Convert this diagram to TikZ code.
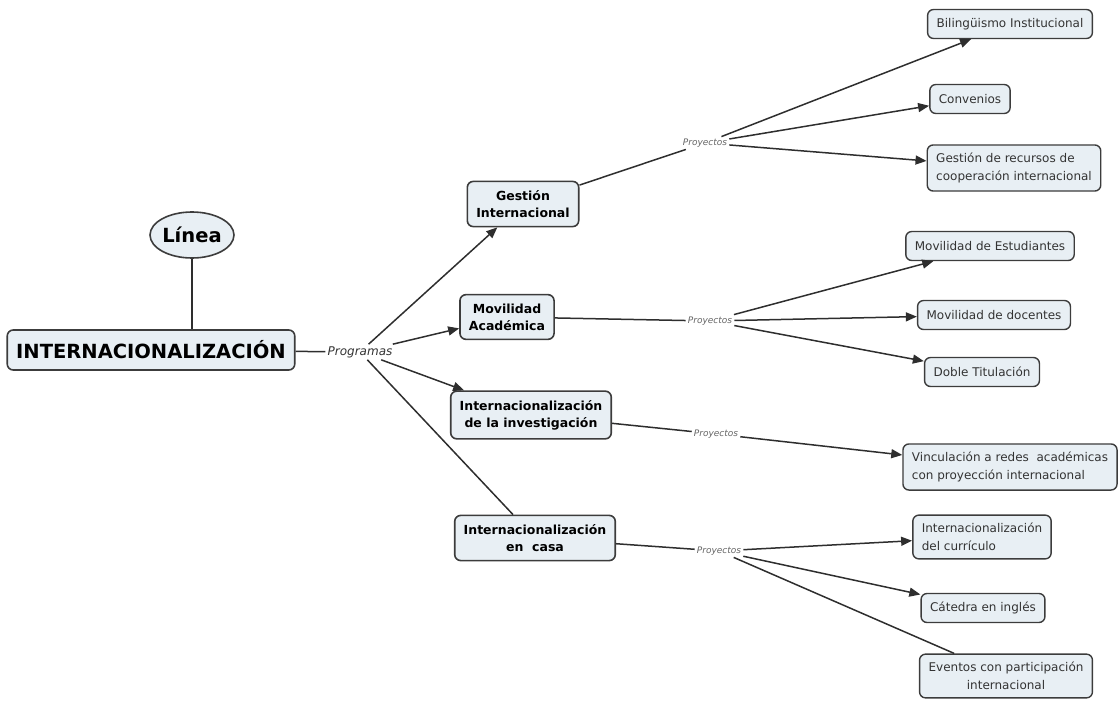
\documentclass[tikz,border=0pt]{standalone}
\usepackage{fontspec}
\setmainfont{DejaVu Sans}[ItalicFont={* Oblique}, BoldItalicFont={* Bold Oblique}]
\usepackage{tikz}
\usetikzlibrary{shapes.geometric, arrows.meta}
\definecolor{boxfill}{HTML}{E8EFF4}
\definecolor{boxdraw}{HTML}{3C3C3C}
\definecolor{linkcol}{HTML}{2E2E2E}
\tikzstyle{mainbox} = [rectangle, rounded corners=6pt, draw=boxdraw, fill=boxfill, line width=1.6pt, font=\fontsize{19.5}{22}\selectfont\bfseries, inner xsep=9pt, minimum height=40pt]
\tikzstyle{oval} = [ellipse, draw=boxdraw, fill=boxfill, line width=1.6pt, font=\fontsize{19.5}{22}\selectfont\bfseries, minimum width=79pt, minimum height=46pt, inner sep=0pt]
\tikzstyle{program} = [rectangle, rounded corners=6pt, draw=boxdraw, fill=boxfill, line width=1.6pt, font=\fontsize{12.5}{17}\selectfont\bfseries, align=center, inner xsep=9pt, inner ysep=9pt]
\tikzstyle{project} = [rectangle, rounded corners=6pt, draw=boxdraw, fill=boxfill, line width=1.4pt, font=\fontsize{12}{18}\selectfont, text=black!80, inner xsep=9pt, inner ysep=8pt, minimum height=29pt]
\tikzstyle{linklabel} = [font=\fontsize{12}{14}\selectfont\itshape, text=black!80, inner sep=2pt]
\tikzstyle{sublabel} = [font=\fontsize{9}{11}\selectfont\itshape, text=black!60, inner sep=2pt]
\tikzstyle{plainline} = [line width=1.5pt, draw=linkcol]
\tikzstyle{arrow} = [plainline, -{Triangle[length=11pt,width=9pt]}]

\begin{document}
\begin{tikzpicture}[x=1pt, y=-1pt]
\useasboundingbox (0,0) rectangle (1119,701);

\node (linea) [oval] at (192, 235) {Línea};
\node (inter) [mainbox] at (151, 350) {INTERNACIONALIZACIÓN};
\node (prog) [linklabel] at (360, 352) {Programas};

\node (gest) [program] at (523, 204) {Gestión\\Internacional};
\node (movi) [program] at (507, 317) {Movilidad\\Académica};
\node (inve) [program] at (531, 415) {Internacionalización\\de la investigación};
\node (casa) [program] at (535, 538) {Internacionalización\\en~ casa};

\node (p1) [sublabel] at (705, 143) {Proyectos};
\node (p2) [sublabel] at (710, 321) {Proyectos};
\node (p3) [sublabel] at (716, 434) {Proyectos};
\node (p4) [sublabel] at (719, 551) {Proyectos};

\node (bili) [project] at (1010, 24) {Bilingüismo Institucional};
\node (conv) [project] at (970, 99) {Convenios};
\node (recu) [project, align=left] at (1014, 168) {Gestión de recursos de\\cooperación internacional};
\node (estu) [project] at (990, 246) {Movilidad de Estudiantes};
\node (doce) [project] at (994, 315) {Movilidad de docentes};
\node (dobl) [project] at (982, 372) {Doble Titulación};
\node (vinc) [project, align=left] at (1010, 467) {Vinculación a redes~ académicas\\con proyección internacional};
\node (curr) [project, align=left] at (982, 537) {Internacionalización\\del currículo};
\node (cate) [project] at (983, 608) {Cátedra en inglés};
\node (even) [project, align=center] at (1006, 676) {Eventos con participación\\internacional};

\draw[plainline] (linea.south) -- (linea.south |- inter.north);
\draw[plainline] (inter) -- (prog);
\draw[arrow] (prog) -- (gest);
\draw[arrow] (prog) -- (movi);
\draw[arrow] (prog) -- (inve);
\draw[plainline] (prog) -- (casa);

\draw[plainline] (gest) -- (p1);
\draw[plainline] (movi) -- (p2);
\draw[plainline] (inve) -- (p3);
\draw[plainline] (casa) -- (p4);

\draw[arrow] (p1) -- (bili);
\draw[arrow] (p1) -- (conv);
\draw[arrow] (p1) -- (recu);
\draw[arrow] (p2) -- (estu);
\draw[arrow] (p2) -- (doce);
\draw[arrow] (p2) -- (dobl);
\draw[arrow] (p3) -- (vinc);
\draw[arrow] (p4) -- (curr);
\draw[arrow] (p4) -- (cate);
\draw[plainline] (p4) -- (even);
\end{tikzpicture}
\end{document}
